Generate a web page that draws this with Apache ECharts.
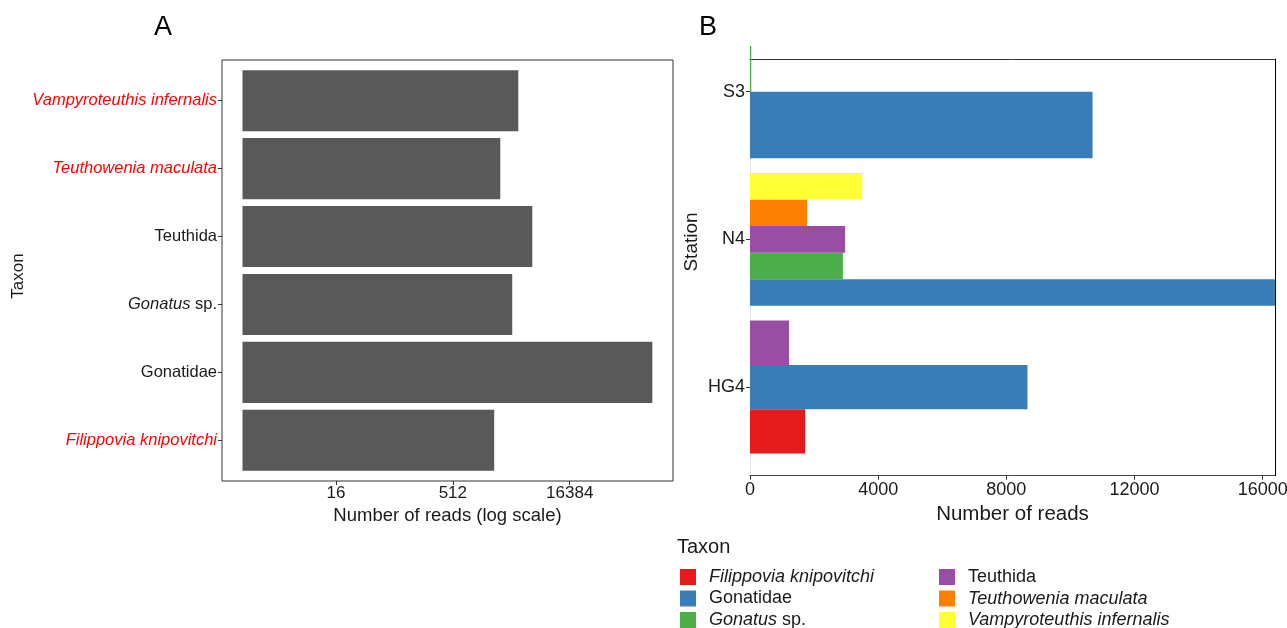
<!DOCTYPE html>
<html>
<head>
<meta charset="utf-8">
<script src="https://cdn.jsdelivr.net/npm/echarts@6/dist/echarts.min.js"></script>
<style>
  html, body { margin: 0; padding: 0; background: #fff; }
  #chart { width: 1287px; height: 628px; }
</style>
</head>
<body>
<div id="chart"></div>
<script>
// ---- Panel A: total reads per taxon (log2 scale) ----
const taxaA = ['Filippovia knipovitchi', 'Gonatidae', 'Gonatus sp.', 'Teuthida', 'Teuthowenia maculata', 'Vampyroteuthis infernalis'];
const readsA = [1745, 190000, 2980, 5400, 2090, 3565];
const redTaxa = ['Filippovia knipovitchi', 'Teuthowenia maculata', 'Vampyroteuthis infernalis'];
const logTicksA = [16, 512, 16384];

// ---- Panel B: reads per station, split by taxon ----
const stations = ['HG4', 'N4', 'S3'];
const taxaB = ['Filippovia knipovitchi', 'Gonatidae', 'Gonatus sp.', 'Teuthida', 'Teuthowenia maculata', 'Vampyroteuthis infernalis'];
const readsFilippovia = [1720, null, null];
const readsGonatidae = [8660, 170000, 10690];
const readsGonatus = [null, 2900, 40];
const readsTeuthida = [1220, 2970, null];
const readsTeuthowenia = [null, 1780, null];
const readsVampyroteuthis = [null, 3500, null];
const ticksB = [0, 4000, 8000, 12000, 16000];
const colorsB = ['#E41A1C', '#377EB8', '#4DAF4A', '#984EA3', '#FF7F00', '#FFFF33'];

const readsB = [readsFilippovia, readsGonatidae, readsGonatus, readsTeuthida, readsTeuthowenia, readsVampyroteuthis];

const FONT = 'Liberation Sans';
const INK = '#1a1a1a';

// taxon names: binomials in italics, genus only italic for "sp."
function richName(name, red) {
  if (name === 'Gonatus sp.') return '{i|Gonatus} sp.';
  if (name.indexOf(' ') > 0) return '{' + (red ? 'ri' : 'i') + '|' + name + '}';
  return name;
}

function richStyles(size) {
  return {
    i: { fontStyle: 'italic', fontSize: size, fontFamily: FONT, color: INK },
    ri: { fontStyle: 'italic', fontSize: size, fontFamily: FONT, color: '#FF0000' }
  };
}

// dodge slots: bars present at a station share the 0.9 band
function slotOf(ti, si) {
  let k = 0;
  for (let j = 0; j < ti; j++) if (readsB[j][si] != null) k++;
  return k;
}
const nAtStation = stations.map((s, si) => readsB.filter(a => a[si] != null).length);

const chart = echarts.init(document.getElementById('chart'), null, { renderer: 'canvas' });

const seriesB = taxaB.map((name, ti) => ({
  name: name,
  type: 'custom',
  xAxisIndex: 1,
  yAxisIndex: 1,
  itemStyle: { color: colorsB[ti] },
  encode: { x: 0, y: 1 },
  data: readsB[ti]
    .map((v, si) => v == null ? null : [v, si + 1, slotOf(ti, si), nAtStation[si]])
    .filter(d => d !== null),
  renderItem: function (params, api) {
    const v = api.value(0), s = api.value(1), k = api.value(2), n = api.value(3);
    const w = 0.9 / n;
    const y0 = s - 0.45 + k * w;
    const y1 = y0 + w;
    const a = api.coord([0, y1]);
    const b = api.coord([v, y0]);
    const cs = params.coordSys;
    const shape = echarts.graphic.clipRectByRect(
      { x: a[0], y: a[1], width: b[0] - a[0], height: b[1] - a[1] },
      { x: cs.x, y: cs.y - 13, width: cs.width, height: cs.height + 13 }
    );
    if (!shape) return null;
    return { type: 'rect', shape: shape, style: { fill: api.visual('color') } };
  }
}));

// legend: two columns of three keys
const legendCols = [680, 939];
const legendRows = [568, 589.5, 611];
const legends = taxaB.map((name, ti) => ({
  data: [name],
  left: legendCols[Math.floor(ti / 3)],
  top: legendRows[ti % 3],
  orient: 'horizontal',
  itemWidth: 16, itemHeight: 16, icon: 'rect', selectedMode: false, padding: 0,
  formatter: n => richName(n, false),
  textStyle: { fontSize: 18, color: INK, fontFamily: FONT, padding: [0, 0, 0, 8], rich: richStyles(18) }
}));

const option = {
  animation: false,
  backgroundColor: '#fff',
  textStyle: { fontFamily: FONT },
  title: [
    { text: 'A', left: 154, top: 14, padding: 0, textStyle: { fontSize: 27, fontWeight: 'normal', color: '#000', fontFamily: FONT } },
    { text: 'B', left: 699, top: 14, padding: 0, textStyle: { fontSize: 27, fontWeight: 'normal', color: '#000', fontFamily: FONT } },
    { text: 'Taxon', left: 677, top: 537, padding: 0, textStyle: { fontSize: 20, fontWeight: 'normal', color: INK, fontFamily: FONT } }
  ],
  grid: [
    { left: 222, top: 60, width: 451, height: 421, show: true, borderColor: '#333', borderWidth: 1, backgroundColor: '#fff', containLabel: false, outerBoundsMode: 'none' },
    { left: 750, top: 59, width: 525, height: 416.7, show: false, containLabel: false, outerBoundsMode: 'none' }
  ],
  xAxis: [
    {
      gridIndex: 0, type: 'log', logBase: 2, min: 0.5445, max: 350700,
      axisLine: { show: false },
      axisTick: { show: true, customValues: logTicksA, length: 4, lineStyle: { color: '#333' } },
      axisLabel: { customValues: logTicksA, fontSize: 17, color: INK, margin: 4, fontFamily: FONT, formatter: v => String(Math.round(v)) },
      splitLine: { show: false },
      name: 'Number of reads (log scale)', nameLocation: 'middle', nameGap: 20,
      nameTextStyle: { fontSize: 18.5, color: INK, fontFamily: FONT }
    },
    {
      gridIndex: 1, type: 'value', min: 0, max: 16384, interval: 4000,
      axisLine: { show: true, onZero: false, lineStyle: { color: '#444' } },
      axisTick: { show: true, customValues: ticksB, length: 4, lineStyle: { color: '#333' } },
      axisLabel: { customValues: ticksB, fontSize: 18, color: INK, margin: 5, fontFamily: FONT, formatter: v => String(Math.round(v)) },
      splitLine: { show: false },
      name: 'Number of reads', nameLocation: 'middle', nameGap: 23,
      nameTextStyle: { fontSize: 20.5, color: INK, fontFamily: FONT }
    },
    {
      gridIndex: 1, type: 'value', position: 'top', min: 0, max: 16384, interval: 4000,
      axisLine: { show: true, onZero: false, lineStyle: { color: '#333' } },
      axisTick: { show: false }, axisLabel: { show: false }, splitLine: { show: false }
    }
  ],
  yAxis: [
    {
      gridIndex: 0, type: 'value', min: 0.4, max: 6.6,
      axisLine: { show: false },
      axisTick: { show: true, customValues: [1, 2, 3, 4, 5, 6], length: 4, lineStyle: { color: '#333' } },
      axisLabel: {
        customValues: [1, 2, 3, 4, 5, 6], fontSize: 16.5, color: INK, margin: 5, fontFamily: FONT,
        formatter: v => { const n = taxaA[Math.round(v) - 1]; return richName(n, redTaxa.indexOf(n) >= 0); },
        rich: richStyles(16.5)
      },
      splitLine: { show: false }
    },
    {
      gridIndex: 1, type: 'value', min: 0.4, max: 3.2214,
      axisLine: { show: true, onZero: false, lineStyle: { color: '#e4e4e4' } },
      axisTick: { show: true, customValues: [1, 2, 3], length: 4, lineStyle: { color: '#333' } },
      axisLabel: {
        customValues: [1, 2, 3], fontSize: 18, color: INK, margin: 5, fontFamily: FONT,
        formatter: v => stations[Math.round(v) - 1]
      },
      splitLine: { show: false }
    },
    {
      gridIndex: 1, type: 'value', position: 'right', min: 0.4, max: 3.2214,
      axisLine: { show: true, onZero: false, lineStyle: { color: '#000' } },
      axisTick: { show: false }, axisLabel: { show: false }, splitLine: { show: false }
    }
  ],
  legend: legends,
  graphic: [
    {
      type: 'text', x: 18, y: 276, rotation: Math.PI / 2,
      style: { text: 'Taxon', fontSize: 17, fontFamily: FONT, fill: INK, align: 'center', verticalAlign: 'middle' }
    },
    {
      type: 'text', x: 692, y: 242, rotation: Math.PI / 2,
      style: { text: 'Station', fontSize: 19, fontFamily: FONT, fill: INK, align: 'center', verticalAlign: 'middle' }
    }
  ],
  series: [
    {
      name: 'total',
      type: 'custom',
      xAxisIndex: 0,
      yAxisIndex: 0,
      encode: { x: 0, y: 1 },
      data: readsA.map((v, i) => [v, i + 1]),
      renderItem: function (params, api) {
        const v = api.value(0), c = api.value(1);
        const p0 = api.coord([1, c + 0.45]);
        const p1 = api.coord([v, c - 0.45]);
        return { type: 'rect', shape: { x: p0[0], y: p0[1], width: p1[0] - p0[0], height: p1[1] - p0[1] }, style: { fill: '#595959' } };
      }
    }
  ].concat(seriesB)
};

chart.setOption(option);
</script>
</body>
</html>
